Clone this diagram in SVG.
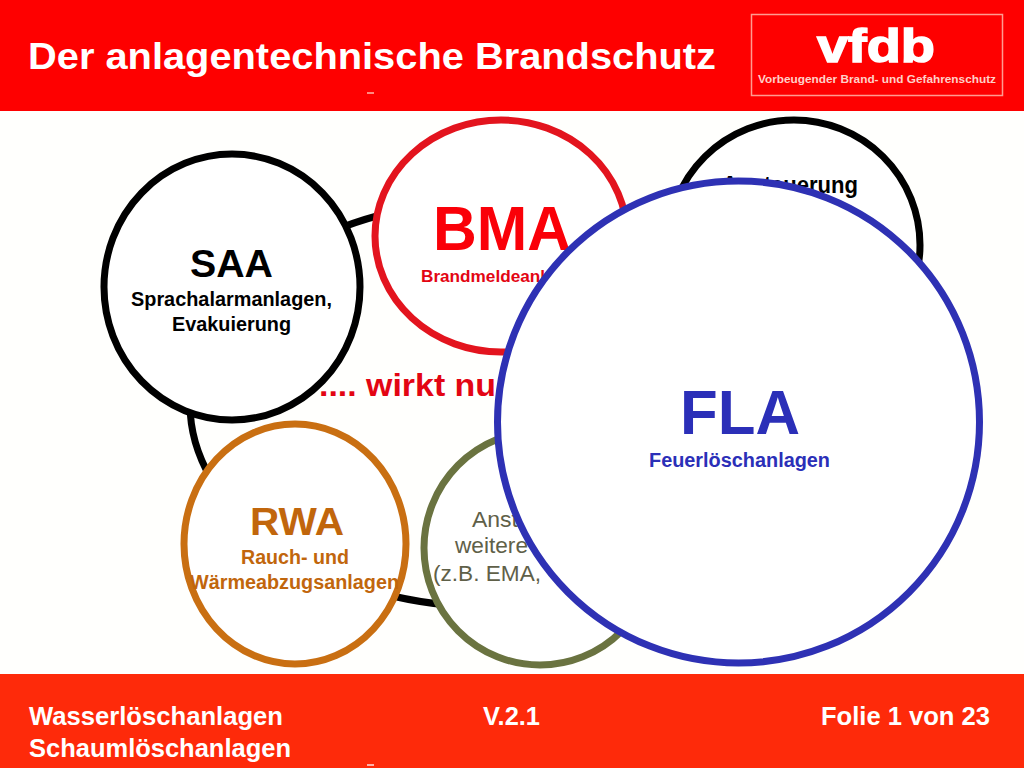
<svg xmlns="http://www.w3.org/2000/svg" width="1024" height="768" viewBox="0 0 1024 768">
<style>
text{font-family:"Liberation Sans",Arial,sans-serif;font-weight:bold;text-anchor:start}
.ring{fill:#fff;stroke-width:7}
.hw{fill:#fff;font-size:25px}
.reg{font-weight:normal;font-size:22px;fill:#5f6048}
</style>
<rect width="1024" height="768" fill="#fffffd"/>
<g id="header">
<rect x="0" y="0" width="1024" height="111" fill="#fe0000"/>
<rect x="367" y="92" width="7" height="2" fill="#ff8a80"/>
<text x="28" y="69" class="hw" style="font-size:36px" textLength="688" lengthAdjust="spacingAndGlyphs">Der anlagentechnische Brandschutz</text>
</g>
<g id="logo">
<rect x="751.500" y="14.500" width="251" height="81" fill="#fe0000" stroke="#ff9c90" stroke-width="1.500"/>
<text x="817" y="62" fill="#fff" style="font-size:47px;stroke:#fff;stroke-width:1.500px" textLength="118" lengthAdjust="spacingAndGlyphs">vfdb</text>
<text x="758" y="83" fill="#ffd0c8" style="font-size:10.500px" textLength="238" lengthAdjust="spacingAndGlyphs">Vorbeugender Brand- und Gefahrenschutz</text>
</g>
<g id="connectors">
<ellipse cx="490" cy="404" rx="300" ry="203" fill="none" stroke="#000" stroke-width="7"/>
</g>
<text id="claim" x="319" y="396" fill="#e30513" style="font-size:31px" textLength="177" lengthAdjust="spacingAndGlyphs">.... wirkt nu</text>
<g id="node-saa">
<ellipse class="ring" cx="232" cy="287" rx="128" ry="133" stroke="#000"/>
<text x="190" y="277" fill="#000" style="font-size:38px" textLength="83" lengthAdjust="spacingAndGlyphs">SAA</text>
<text x="131" y="306" fill="#000" style="font-size:19.500px" textLength="201" lengthAdjust="spacingAndGlyphs">Sprachalarmanlagen,</text>
<text x="172" y="331" fill="#000" style="font-size:19.500px" textLength="119" lengthAdjust="spacingAndGlyphs">Evakuierung</text>
</g>
<g id="node-bma">
<ellipse class="ring" cx="501" cy="236" rx="126" ry="116" stroke="#e3141e"/>
<text x="433" y="250" fill="#fa0008" style="font-size:63px" textLength="138" lengthAdjust="spacingAndGlyphs">BMA</text>
<text x="421" y="282" fill="#e30513" style="font-size:17px" textLength="124" lengthAdjust="spacingAndGlyphs">Brandmeldeanl</text>
</g>
<g id="node-ansteuerung">
<ellipse class="ring" cx="794" cy="245" rx="126" ry="125" stroke="#000"/>
<text x="722" y="193" fill="#000" style="font-size:23px" textLength="136" lengthAdjust="spacingAndGlyphs">Ansteuerung</text>
</g>
<g id="node-rwa">
<ellipse class="ring" cx="295" cy="544" rx="111" ry="120" stroke="#c96f12"/>
<text x="250" y="535" fill="#c1660c" style="font-size:39px" textLength="94" lengthAdjust="spacingAndGlyphs">RWA</text>
<text x="241" y="564" fill="#c1660c" style="font-size:19.500px" textLength="108" lengthAdjust="spacingAndGlyphs">Rauch- und</text>
<text x="190" y="589" fill="#c1660c" style="font-size:19.500px" textLength="209" lengthAdjust="spacingAndGlyphs">Wärmeabzugsanlagen</text>
</g>
<g id="node-weitere">
<ellipse class="ring" cx="540" cy="548" rx="116" ry="117" stroke="#6a7340"/>
<text x="472" y="527" class="reg" textLength="46" lengthAdjust="spacingAndGlyphs">Anst</text>
<text x="455" y="553" class="reg" textLength="73" lengthAdjust="spacingAndGlyphs">weitere</text>
<text x="433" y="581" class="reg" textLength="108" lengthAdjust="spacingAndGlyphs">(z.B. EMA,</text>
</g>
<g id="footer">
<rect x="0" y="674" width="1024" height="94" fill="#fe2a0a"/>
<rect x="367" y="764" width="7" height="2" fill="#ffb0a8"/>
<text x="29" y="725" class="hw" textLength="254" lengthAdjust="spacingAndGlyphs">Wasserlöschanlagen</text>
<text x="29" y="757" class="hw" textLength="262" lengthAdjust="spacingAndGlyphs">Schaumlöschanlagen</text>
<text x="483" y="725" class="hw" textLength="57" lengthAdjust="spacingAndGlyphs">V.2.1</text>
<text x="821" y="725" class="hw" textLength="169" lengthAdjust="spacingAndGlyphs">Folie 1 von 23</text>
</g>
<g id="node-fla">
<circle class="ring" cx="738.500" cy="422" r="241" stroke="#2e31b4"/>
<text x="680" y="434" fill="#2b2fb8" style="font-size:63px" textLength="120" lengthAdjust="spacingAndGlyphs">FLA</text>
<text x="649" y="467" fill="#2b2fb8" style="font-size:19.500px" textLength="181" lengthAdjust="spacingAndGlyphs">Feuerlöschanlagen</text>
</g>
</svg>
